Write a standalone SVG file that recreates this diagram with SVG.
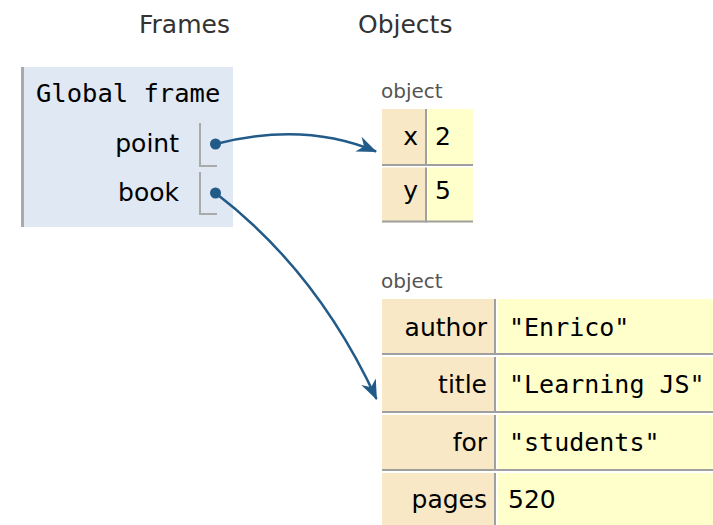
<svg xmlns="http://www.w3.org/2000/svg" width="713" height="525" viewBox="0 0 713 525">
<defs>
<style>
.hdr{font-family:"DejaVu Sans",Verdana,sans-serif;font-size:25px;fill:#333}
.var{font-family:"DejaVu Sans",Verdana,sans-serif;font-size:25px;fill:#000;text-anchor:end}
.mono{font-family:"DejaVu Sans Mono","Liberation Mono",monospace;font-size:25px;fill:#000}
.gf{font-size:25.5px}
.num{font-family:"DejaVu Sans",Verdana,sans-serif;font-size:25px;fill:#000}
.type{font-family:"DejaVu Sans",Verdana,sans-serif;font-size:20px;fill:#555}
.key{fill:#f8e8c6}
.val{fill:#ffffcc}
.bord{fill:#a0a0a0}
.ptr{fill:none;stroke:#aaa;stroke-width:2}
.arrow{fill:none;stroke:#225a88;stroke-width:2.5}
.dot{fill:#225a88}
</style>
<marker id="ah" markerUnits="userSpaceOnUse" markerWidth="26" markerHeight="22" viewBox="-22 -11 26 22" refX="0" refY="0" orient="auto">
<path d="M1,0 L-19,-8 L-13,0 L-19,8 Z" fill="#225a88"/>
</marker>
</defs>

<text class="hdr" x="139" y="33">Frames</text>
<text class="hdr" x="358" y="33">Objects</text>

<g id="global-frame">
<rect x="21" y="67" width="212" height="160" fill="#dfe8f3"/>
<rect x="21" y="67" width="3" height="160" fill="#aaa"/>
<text class="mono gf" x="36" y="102">Global frame</text>
<text class="var" x="179" y="152">point</text>
<text class="var" x="179" y="201">book</text>
<path class="ptr" d="M200,123 V166 H217"/>
<path class="ptr" d="M200,172 V214 H217"/>
<circle class="dot" cx="215.5" cy="144" r="5.5"/>
<circle class="dot" cx="215.5" cy="193" r="5.5"/>
</g>

<g id="object-point">
<text class="type" x="381" y="98">object</text>
<rect class="key" x="382" y="109" width="45" height="57"/>
<rect class="val" x="428" y="109" width="45" height="57"/>
<rect class="key" x="382" y="167.5" width="45" height="55"/>
<rect class="val" x="428" y="167.5" width="45" height="55"/>
<rect class="bord" x="425" y="109" width="2" height="57"/>
<rect class="bord" x="425" y="167.5" width="2" height="55"/>
<rect class="bord" x="382" y="164" width="91" height="2"/>
<rect class="bord" x="382" y="220.5" width="91" height="2"/>
<text class="var" x="418" y="145">x</text>
<text class="num" x="435" y="145">2</text>
<text class="var" x="418" y="199">y</text>
<text class="num" x="435" y="199">5</text>
</g>

<g id="object-book">
<text class="type" x="381" y="288">object</text>
<rect class="key" x="382" y="299" width="114" height="56"/>
<rect class="val" x="498" y="299" width="215" height="56"/>
<rect class="key" x="382" y="357" width="114" height="56"/>
<rect class="val" x="498" y="357" width="215" height="56"/>
<rect class="key" x="382" y="415" width="114" height="56"/>
<rect class="val" x="498" y="415" width="215" height="56"/>
<rect class="key" x="382" y="473" width="114" height="56"/>
<rect class="val" x="498" y="473" width="215" height="56"/>
<rect class="bord" x="494" y="299" width="2" height="56"/>
<rect class="bord" x="494" y="357" width="2" height="56"/>
<rect class="bord" x="494" y="415" width="2" height="56"/>
<rect class="bord" x="494" y="473" width="2" height="56"/>
<rect class="bord" x="382" y="353" width="331" height="2"/>
<rect class="bord" x="382" y="411" width="331" height="2"/>
<rect class="bord" x="382" y="469" width="331" height="2"/>
<text class="var" x="487" y="336">author</text>
<text class="mono" x="509" y="336">"Enrico"</text>
<text class="var" x="487" y="393">title</text>
<text class="mono" x="509" y="393">"Learning JS"</text>
<text class="var" x="487" y="451">for</text>
<text class="mono" x="509" y="451">"students"</text>
<text class="var" x="487" y="508">pages</text>
<text class="num" x="508" y="508">520</text>
</g>

<g id="connectors">
<path class="arrow" d="M215.5,144 C270,130 325,130 376,151.5" marker-end="url(#ah)"/>
<path class="arrow" d="M215.5,193 C290,250 340,320 376.5,399" marker-end="url(#ah)"/>
</g>
</svg>
